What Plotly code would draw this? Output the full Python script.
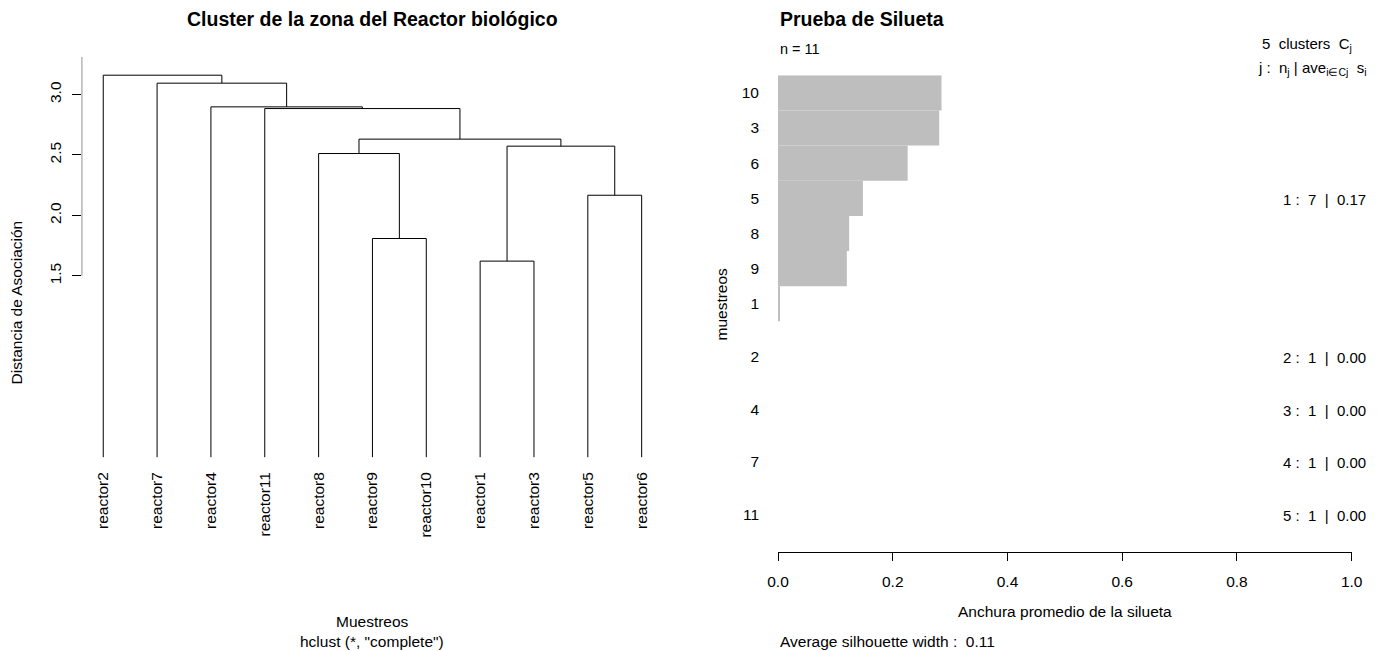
import plotly.graph_objects as go

W, H = 1385, 651
FONT = "Liberation Sans, Arial, Helvetica, sans-serif"

# ---------------- Dendrogram data (hclust, "complete") ----------------
leaf_labels = ["reactor1", "reactor2", "reactor3", "reactor4", "reactor5", "reactor6",
               "reactor7", "reactor8", "reactor9", "reactor10", "reactor11"]
# hclust-style merge matrix: negative = leaf index, positive = earlier merge step
merge_left = [-1, -9, -5, -8, 1, 4, -11, -4, -7, -2]
merge_right = [-3, -10, -6, 2, 3, 5, 6, 7, 8, 9]
merge_height = [1.622, 1.809, 2.167, 2.512, 2.573, 2.631, 2.884, 2.898, 3.094, 3.160]
leaf_order = [2, 7, 4, 11, 8, 9, 10, 1, 3, 5, 6]
left_yticks = [1.5, 2.0, 2.5, 3.0]

# ---------------- Silhouette data ----------------
sil_samples = [10, 3, 6, 5, 8, 9, 1, 2, 4, 7, 11]
sil_cluster = [1, 1, 1, 1, 1, 1, 1, 2, 3, 4, 5]
sil_width = [0.285, 0.281, 0.226, 0.148, 0.124, 0.120, 0.003, 0.0, 0.0, 0.0, 0.0]
right_xticks = [0.0, 0.2, 0.4, 0.6, 0.8, 1.0]


def fx(px):
    return px / W


def fy(py):
    return 1 - py / H


# ---- dendrogram segments computed from the merge table ----
leaf_pos = {leaf: i + 1 for i, leaf in enumerate(leaf_order)}
node = {}
seg_x, seg_y = [], []
for k, (a, b, h) in enumerate(zip(merge_left, merge_right, merge_height), start=1):
    def coord(c):
        return (leaf_pos[-c], 0.0) if c < 0 else node[c]
    xa, ha = coord(a)
    xb, hb = coord(b)
    seg_x += [xa, xa, xb, xb, None]
    seg_y += [ha, h, h, hb, None]
    node[k] = ((xa + xb) / 2, h)

left_ytop = 3.313
left_ybot = -0.139

fig = go.Figure()
fig.add_trace(go.Scatter(x=seg_x, y=seg_y, mode="lines",
                         line=dict(color="black", width=1),
                         hoverinfo="skip", showlegend=False,
                         xaxis="x", yaxis="y"))

# ---- silhouette bar positions (gap 0.5 between clusters) ----
centers = []
pos = 0.0
for i, c in enumerate(sil_cluster):
    if i > 0 and c != sil_cluster[i - 1]:
        pos += 0.5
    centers.append(pos + 0.5)
    pos += 1.0

fig.add_trace(go.Bar(x=sil_width, y=centers, orientation="h", width=1,
                     marker=dict(color="#BEBEBE", line=dict(width=0)),
                     hoverinfo="skip", showlegend=False,
                     xaxis="x2", yaxis="y2"))

# cluster summaries
clusters = []
for c in sil_cluster:
    if c not in clusters:
        clusters.append(c)
nb = "\u00a0"
annotations = []
for c in clusters:
    idx = [i for i, cc in enumerate(sil_cluster) if cc == c]
    n = len(idx)
    ave = sum(sil_width[i] for i in idx) / n
    yc = sum(centers[i] for i in idx) / n
    txt = f"{c}{nb}:{nb}{nb}{n}{nb}{nb}|{nb}{nb}{ave:.2f}"
    annotations.append(dict(text=txt, x=fx(1368), xref="paper", xanchor="right",
                            y=yc, yref="y2", yanchor="middle", yshift=-1,
                            showarrow=False, font=dict(size=15, color="black", family=FONT)))

avg_all = sum(sil_width) / len(sil_width)

def ann(text, x, y, size=15.5, xanchor="center", angle=0, bold=False):
    if bold:
        text = f"<b>{text}</b>"
    return dict(text=text, x=fx(x), y=fy(y), xref="paper", yref="paper",
                xanchor=xanchor, yanchor="middle", showarrow=False, textangle=angle,
                font=dict(size=size, color="black", family=FONT))

annotations += [
    ann("Cluster de la zona del Reactor biológico", 372.5, 18.5, size=19.5, bold=True),
    ann("Distancia de Asociación", 15.5, 303, angle=-90),
    ann("Muestreos", 372, 621.5),
    ann('hclust (*, "complete")', 372, 641.5),
    ann("Prueba de Silueta", 778, 19, size=19.5, xanchor="left", bold=True),
    ann(f"n{nb}={nb}{len(sil_samples)}", 778, 49, size=14.5, xanchor="left"),
    ann(f"{len(clusters)}{nb}{nb}clusters{nb}{nb}C<sub>j</sub>", 1354, 44, size=15, xanchor="right"),
    ann(f"j{nb}:{nb}{nb}n<sub>j</sub>{nb}|{nb}ave<sub>i∈Cj</sub>{nb}{nb}s<sub>i</sub>", 1369, 68.5,
        size=15, xanchor="right"),
    ann("Anchura promedio de la silueta", 1065, 611.5),
    ann(f"Average{nb}silhouette{nb}width{nb}:{nb}{nb}{avg_all:.2f}", 778, 641, xanchor="left"),
    ann("muestreos", 720.5, 304, angle=-90),
]

shapes = [dict(type="line", xref="x", yref="y", x0=0.6, x1=0.6, y0=left_yticks[0], y1=left_ytop,
               line=dict(color="black", width=1))]

tickfont = dict(size=15.5, color="black", family=FONT)

fig.update_layout(
    template="none",
    width=W, height=H, autosize=False,
    margin=dict(l=0, r=0, t=0, b=0, pad=0, autoexpand=False),
    paper_bgcolor="white", plot_bgcolor="white",
    font=dict(family=FONT, color="black"),
    showlegend=False,
    annotations=annotations,
    shapes=shapes,
    xaxis=dict(domain=[fx(81.7), fx(663.2)], range=[0.6, 11.4], anchor="y", automargin=False,
               tickmode="array", tickvals=list(range(1, len(leaf_order) + 1)),
               ticktext=[leaf_labels[i - 1] for i in leaf_order],
               tickangle=-90, ticks="", showline=False, showgrid=False, zeroline=False,
               tickfont=tickfont, ticklabelstandoff=-6),
    yaxis=dict(domain=[fy(474), fy(56.7)], range=[left_ybot, left_ytop], anchor="x", automargin=False,
               tickmode="array", tickvals=left_yticks,
               ticktext=[f"{v:.1f}" for v in left_yticks], tickangle=-90,
               ticks="outside", ticklen=9, tickcolor="black", tickwidth=1,
               showline=False, showgrid=False, zeroline=False,
               tickfont=tickfont, ticklabelstandoff=5),
    xaxis2=dict(domain=[fx(778), fx(1351.7)], range=[0, 1], anchor="y2", automargin=False,
                tickmode="array", tickvals=right_xticks,
                ticktext=[f"{v:.1f}" for v in right_xticks],
                ticks="outside", ticklen=8, tickcolor="black", tickwidth=1,
                showline=True, linecolor="black", linewidth=1,
                showgrid=False, zeroline=False, tickfont=tickfont, ticklabelstandoff=8),
    yaxis2=dict(domain=[fy(551.7), fy(75.3)], range=[13.553, 0], anchor="x2", automargin=False,
                tickmode="array", tickvals=centers, ticktext=[str(s) for s in sil_samples],
                ticks="", showline=False, showgrid=False, zeroline=False,
                tickfont=tickfont, ticklabelstandoff=18),
)

fig.write_html("out.html")
